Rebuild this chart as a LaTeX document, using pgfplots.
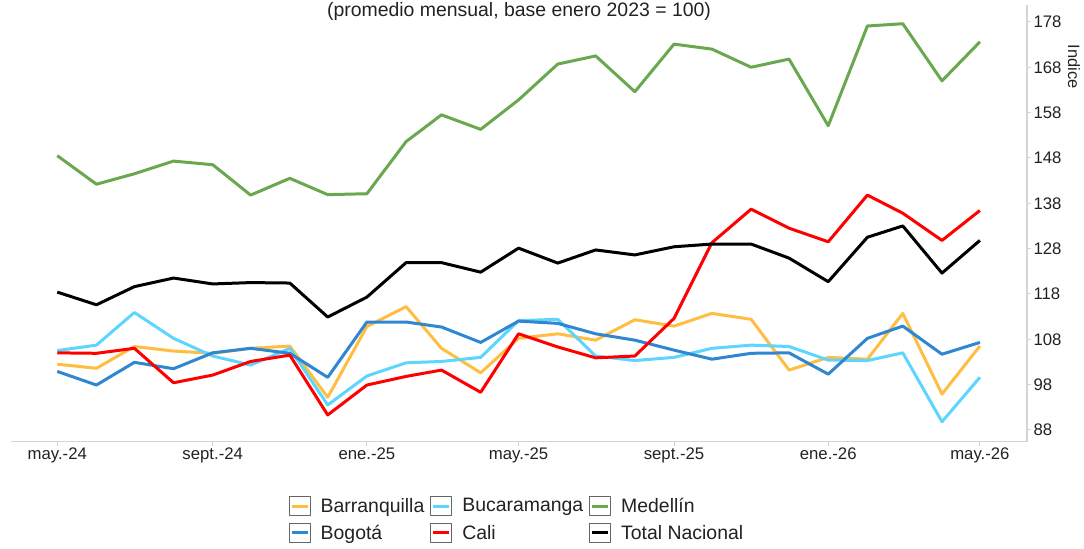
\documentclass[border=0pt]{standalone}
\usepackage{pgfplots}
\usepackage{pgfplotstable}
\pgfplotsset{compat=1.18}
\usepackage{fontspec}
\setmainfont{Liberation Sans}
\definecolor{cBaq}{HTML}{FFBE42}
\definecolor{cBuc}{HTML}{5CD6FF}
\definecolor{cMed}{HTML}{6AA84F}
\definecolor{cBog}{HTML}{2F86D1}
\definecolor{cCal}{HTML}{FF0000}
\definecolor{axgray}{HTML}{D4D4D4}
\definecolor{txgray}{HTML}{222222}

% x = days since 1 May 2024
\pgfplotstableread{
x baq bog buc cal med tot
0 102.5 100.9 105.5 105.0 148.5 118.4
31 101.6 97.9 106.7 104.9 142.2 115.6
61 106.4 102.9 113.9 106.0 144.5 119.6
92 105.4 101.5 108.2 98.4 147.3 121.5
123 104.9 105.0 104.3 100.1 146.5 120.2
153 106.0 106.0 102.3 103.1 139.8 120.5
184 106.5 104.9 106.0 104.5 143.5 120.4
214 95.2 99.6 93.5 91.3 139.9 112.9
245 110.8 111.8 99.9 97.9 140.1 117.3
276 115.2 111.8 102.8 99.8 151.6 124.9
304 106.0 110.7 103.1 101.2 157.5 124.9
335 100.6 107.3 104.0 96.3 154.3 122.8
365 108.2 112.0 112.1 109.2 160.8 128.1
396 109.2 111.5 112.4 106.3 168.7 124.8
426 107.8 109.2 104.3 103.9 170.5 127.7
457 112.3 107.8 103.3 104.3 162.6 126.6
488 110.9 105.6 104.0 112.6 173.1 128.4
518 113.7 103.6 106.0 129.3 172.0 129.0
549 112.4 104.9 106.7 136.7 168.0 129.0
579 101.2 105.0 106.4 132.5 169.8 125.9
610 104.0 100.3 103.4 129.5 155.1 120.7
641 103.6 108.2 103.3 139.8 177.1 130.5
669 113.7 110.9 105.0 135.8 177.6 133.0
700 95.9 104.7 89.8 129.8 165.0 122.6
730 106.5 107.3 99.6 136.4 173.6 129.8
}\data

\begin{document}
\begin{tikzpicture}
\path[use as bounding box] (0,0) rectangle (1084bp,549bp);
\begin{axis}[
  at={(11bp,107.3bp)}, anchor=south west,
  scale only axis, width=1016bp, height=437bp,
  xmin=-36.6, xmax=767.3, ymin=85.4, ymax=181.8,
  axis x line=bottom, axis y line=right,
  axis line style={axgray, line width=1.3bp, -},
  xtick={0,123,245,365,488,610,730},
  xticklabels={may.-24,sept.-24,ene.-25,may.-25,sept.-25,ene.-26,may.-26},
  ytick={88,98,108,118,128,138,148,158,168,178},
  tick align=outside, major tick length=4bp,
  tick style={axgray, line width=1bp},
  ticklabel style={font=\fontsize{16.8}{19}\selectfont, text=txgray},
  xticklabel style={yshift=1bp},
  yticklabel style={xshift=-1bp},
  /pgf/number format/assume math mode=true,
  /pgf/number format/1000 sep={},
  legend columns=3,
  legend cell align=left,
  legend style={at={(0.498,-0.124)}, anchor=north, draw=none, inner sep=0pt,
    font=\fontsize{19.5}{22}\selectfont, text=txgray,
    /tikz/every even column/.append style={column sep=4bp},
    row sep=7bp},
  legend image code/.code={
    \draw[draw=gray!80!black, fill=white, line width=0.9bp] (0bp,-9.5bp) rectangle (21bp,9.5bp);
    \draw[#1, line width=3bp] (2.5bp,0bp) -- (18.5bp,0bp);
    \path (28bp,0bp);
  },
  every axis plot/.append style={line width=3bp, line join=round, no markers},
]
\addplot[cBaq, forget plot] table[x=x,y=baq]{\data};
\addplot[cBuc, forget plot] table[x=x,y=buc]{\data};
\addplot[cBog, forget plot] table[x=x,y=bog]{\data};
\addplot[cCal, forget plot] table[x=x,y=cal]{\data};
\addplot[cMed, forget plot] table[x=x,y=med]{\data};
\addplot[black, forget plot] table[x=x,y=tot]{\data};
\addlegendimage{cBaq}\addlegendentry{Barranquilla}
\addlegendimage{cBuc}\addlegendentry{Bucaramanga}
\addlegendimage{cMed}\addlegendentry{Medellín}
\addlegendimage{cBog}\addlegendentry{Bogotá}
\addlegendimage{cCal}\addlegendentry{Cali}
\addlegendimage{black}\addlegendentry{Total Nacional}
\end{axis}
\node[font=\fontsize{19.5}{22}\selectfont, text=txgray, anchor=center] at (519bp,538bp) {(promedio mensual, base enero 2023 = 100)};
\node[font=\fontsize{16.5}{19}\selectfont, text=txgray, rotate=-90, anchor=center] at (1074bp,482.5bp) {Indice};
\end{tikzpicture}
\end{document}
